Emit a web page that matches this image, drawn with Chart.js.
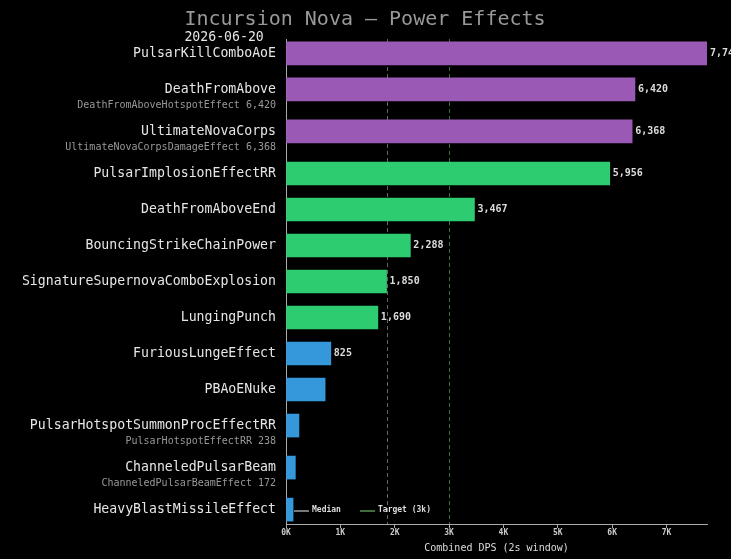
<!DOCTYPE html>
<html>
<head>
<meta charset="utf-8">
<script src="https://cdn.jsdelivr.net/npm/chart.js@4"></script>
<style>
  html, body { margin: 0; background: #000; }
  #wrap { width: 731px; height: 559px; }
</style>
</head>
<body>
<div id="wrap"><canvas id="chart"></canvas></div>
<script>
const powers = ['PulsarKillComboAoE', 'DeathFromAbove', 'UltimateNovaCorps', 'PulsarImplosionEffectRR',
  'DeathFromAboveEnd', 'BouncingStrikeChainPower', 'SignatureSupernovaComboExplosion', 'LungingPunch',
  'FuriousLungeEffect', 'PBAoENuke', 'PulsarHotspotSummonProcEffectRR', 'ChanneledPulsarBeam', 'HeavyBlastMissileEffect'];
const subEffects = ['', 'DeathFromAboveHotspotEffect', 'UltimateNovaCorpsDamageEffect', '', '', '', '', '', '', '',
  'PulsarHotspotEffectRR', 'ChanneledPulsarBeamEffect', ''];
const subValues = [null, 6420, 6368, null, null, null, null, null, null, null, 238, 172, null];
const dps = [7745, 6420, 6368, 5956, 3467, 2288, 1850, 1690, 825, 720, 238, 172, 130];
const tiers = ['high', 'high', 'high', 'mid', 'mid', 'mid', 'mid', 'mid', 'low', 'low', 'low', 'low', 'low'];
const xTicks = [0, 1000, 2000, 3000, 4000, 5000, 6000, 7000];
const targetDps = 3000;

const tierColors = { high: '#9b59b6', mid: '#2ecc71', low: '#3498db' };
const FONT = '"DejaVu Sans Mono", monospace';

// rows with a sub-effect line get a bit more room below them
const rowPos = [];
let pos = 0;
powers.forEach((p, i) => { rowPos.push(pos); pos += subEffects[i] ? 7 / 6 : 1; });

const sorted = [...dps].sort((a, b) => a - b);
const medianDps = sorted[Math.floor(sorted.length / 2)];

const fmt = v => v.toLocaleString('en-US');

const overlay = {
  id: 'overlay',
  beforeDatasetsDraw(chart) {
    const { ctx, chartArea, scales: { x } } = chart;
    ctx.save();
    ctx.lineWidth = 1;
    ctx.setLineDash([4, 3]);
    [[medianDps, '#666'], [targetDps, '#3d6b3d']].forEach(([v, c]) => {
      const px = Math.round(x.getPixelForValue(v)) + 0.5;
      ctx.strokeStyle = c;
      ctx.beginPath();
      ctx.moveTo(px, chartArea.top);
      ctx.lineTo(px, chartArea.bottom);
      ctx.stroke();
    });
    ctx.restore();
  },
  afterDraw(chart) {
    const { ctx, chartArea, scales: { y } } = chart;
    const meta = chart.getDatasetMeta(0);
    ctx.save();

    // title + date
    ctx.font = '20px ' + FONT;
    ctx.fillStyle = '#999';
    ctx.textAlign = 'center';
    ctx.textBaseline = 'middle';
    const title = 'Incursion Nova \u2014 Power Effects';
    ctx.fillText(title, 365, 20);
    const tw = ctx.measureText(title).width;
    ctx.font = '13.2px ' + FONT;
    ctx.fillStyle = '#e6e6e6';
    ctx.textAlign = 'left';
    ctx.fillText('2026-06-20', 365 - tw / 2, 38);

    // row labels
    ctx.textAlign = 'right';
    powers.forEach((name, i) => {
      const py = y.getPixelForValue(rowPos[i]);
      ctx.font = '13.2px ' + FONT;
      ctx.fillStyle = '#e6e6e6';
      ctx.fillText(name, chartArea.left - 10, py);
      if (subEffects[i]) {
        ctx.font = '10px ' + FONT;
        ctx.fillStyle = '#999';
        ctx.fillText(subEffects[i] + ' ' + fmt(subValues[i]), chartArea.left - 10, py + 16);
      }
    });

    // value labels
    ctx.font = 'bold 10px ' + FONT;
    ctx.fillStyle = '#ddd';
    ctx.textAlign = 'left';
    dps.forEach((v, i) => {
      if (v < 800) return;
      const bar = meta.data[i];
      ctx.fillText(fmt(v), bar.x + 3, bar.y);
    });

    // legend
    const ly = chartArea.bottom - 14;
    ctx.font = 'bold 8px ' + FONT;
    ctx.lineWidth = 2;
    [['Median', '#777', chartArea.left + 8], ['Target (3k)', '#3e6e3e', chartArea.left + 74]].forEach(([t, c, lx]) => {
      ctx.strokeStyle = c;
      ctx.beginPath();
      ctx.moveTo(lx, ly + 1);
      ctx.lineTo(lx + 15, ly + 1);
      ctx.stroke();
      ctx.fillStyle = '#ddd';
      ctx.fillText(t, lx + 18, ly);
    });
    ctx.restore();
  }
};

new Chart(document.getElementById('chart'), {
  type: 'bar',
  data: {
    datasets: [{
      data: dps.map((v, i) => ({ x: v, y: rowPos[i] })),
      backgroundColor: tiers.map(t => tierColors[t]),
      barThickness: 23
    }]
  },
  options: {
    indexAxis: 'y',
    responsive: true,
    maintainAspectRatio: false,
    animation: false,
    layout: { padding: { top: 39, left: 286, right: 24, bottom: 0 } },
    plugins: { legend: { display: false }, tooltip: { enabled: false } },
    scales: {
      x: {
        type: 'linear',
        min: 0,
        max: Math.max(...dps),
        afterBuildTicks: s => { s.ticks = xTicks.map(v => ({ value: v })); },
        afterFit: s => { s.height = 35; },
        grid: { drawOnChartArea: false, drawTicks: true, tickLength: 4, tickColor: '#aaa' },
        border: { display: true, color: '#aaa' },
        ticks: {
          padding: 0,
          color: '#ccc',
          font: { family: FONT, size: 8, weight: 'bold' },
          callback: v => (v / 1000) + 'K'
        },
        title: {
          display: true,
          text: 'Combined DPS (2s window)',
          color: '#ddd',
          font: { family: FONT, size: 10 },
          padding: { top: 0, bottom: 5 }
        }
      },
      y: {
        type: 'linear',
        reverse: true,
        offset: false,
        min: -0.4,
        max: rowPos[rowPos.length - 1] + 0.4,
        afterFit: s => { s.width = 0; },
        grid: { drawOnChartArea: false, drawTicks: false },
        border: { display: true, color: '#aaa' },
        ticks: { display: false }
      }
    }
  },
  plugins: [overlay]
});
</script>
</body>
</html>
